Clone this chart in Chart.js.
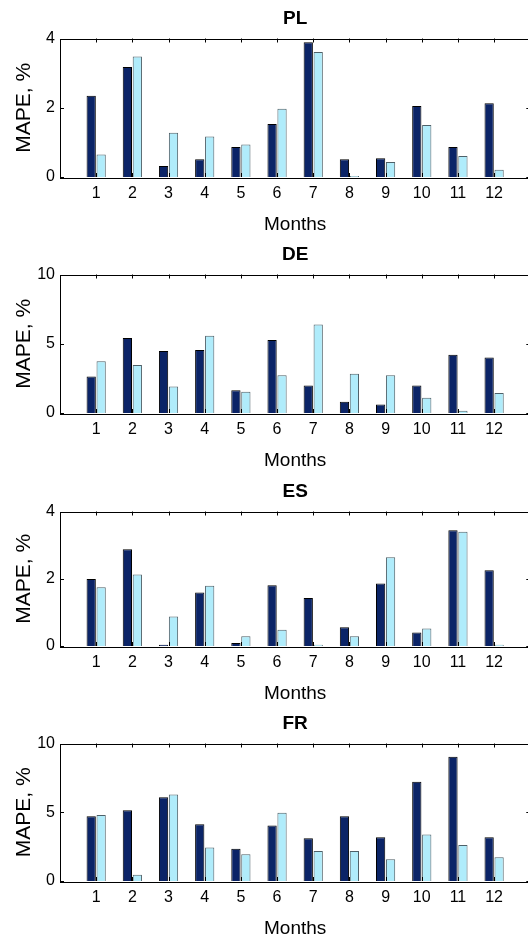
<!DOCTYPE html>
<html>
<head>
<meta charset="utf-8">
<script src="https://cdn.jsdelivr.net/npm/chart.js@4.4.1/dist/chart.umd.min.js"></script>
<style>
  html, body { margin: 0; padding: 0; background: #fff; overflow: hidden; }
  body { position: relative; width: 528px; height: 941px; }
  canvas { position: absolute; left: 0; }
</style>
</head>
<body>
<canvas id="pl"></canvas>
<canvas id="de"></canvas>
<canvas id="es"></canvas>
<canvas id="fr"></canvas>
<script>
// months on the x axis
const months = [1, 2, 3, 4, 5, 6, 7, 8, 9, 10, 11, 12];

// MAPE values, % (dark series / light series) per country
const plDark  = [2.35, 3.18, 0.32, 0.51, 0.87, 1.53, 3.89, 0.51, 0.54, 2.05, 0.87, 2.13];
const plLight = [0.65, 3.48, 1.28, 1.17, 0.94, 1.97, 3.61, 0.03, 0.43, 1.50, 0.61, 0.21];

const deDark  = [2.63, 5.41, 4.47, 4.54, 1.64, 5.27, 1.99, 0.82, 0.62, 1.99, 4.20, 4.00];
const deLight = [3.74, 3.47, 1.92, 5.57, 1.53, 2.72, 6.39, 2.83, 2.72, 1.10, 0.16, 1.44];

const esDark  = [1.99, 2.88, 0.04, 1.59, 0.09, 1.81, 1.43, 0.56, 1.86, 0.40, 3.44, 2.25];
const esLight = [1.75, 2.13, 0.88, 1.79, 0.29, 0.48, 0.04, 0.29, 2.64, 0.52, 3.40, 0.04];

const frDark  = [4.71, 5.15, 6.10, 4.13, 2.34, 4.04, 3.11, 4.71, 3.18, 7.22, 9.03, 3.18];
const frLight = [4.80, 0.46, 6.29, 2.44, 1.95, 4.97, 2.18, 2.18, 1.58, 3.39, 2.62, 1.72];

// y axis limits / tick steps
const yMax  = { pl: 4, de: 10, es: 4, fr: 10 };
const yStep = { pl: 2, de: 5, es: 2, fr: 5 };

Chart.defaults.font.family = "'Liberation Sans', Arial, Helvetica, sans-serif";
Chart.defaults.color = '#000';

// matlab style box with inward ticks, drawn over the bars
const boxTicks = {
  id: 'boxTicks',
  afterDatasetsDraw(chart) {
    const { ctx, chartArea: a, scales } = chart;
    const len = 4;
    ctx.save();
    ctx.strokeStyle = '#000';
    ctx.lineWidth = 1;
    ctx.beginPath();
    months.forEach(m => {
      const x = Math.round(scales.x.getPixelForValue(m)) + 0.5;
      ctx.moveTo(x, a.bottom); ctx.lineTo(x, a.bottom - len);
      ctx.moveTo(x, a.top); ctx.lineTo(x, a.top + len);
    });
    scales.y.ticks.forEach(t => {
      const y = Math.round(scales.y.getPixelForValue(t.value)) + 0.5;
      ctx.moveTo(a.left, y); ctx.lineTo(a.left + len, y);
      ctx.moveTo(a.right, y); ctx.lineTo(a.right - len, y);
    });
    ctx.stroke();
    ctx.strokeRect(Math.round(a.left) + 0.5, Math.round(a.top) + 0.5,
                   Math.round(a.right - a.left), Math.round(a.bottom - a.top));
    ctx.restore();
  }
};

function makeChart(id, title, dark, light, top, chartH) {
  const cv = document.getElementById(id);
  const w = 537, h = Math.round(chartH + 87.8);
  cv.width = w; cv.height = h;
  cv.style.width = w + 'px'; cv.style.height = h + 'px';
  cv.style.top = (top - 35.5) + 'px';

  return new Chart(cv.getContext('2d'), {
    type: 'bar',
    data: {
      datasets: [{
        data: months.map((m, i) => ({ x: m, y: dark[i] })),
        backgroundColor: '#0b2467',
        borderColor: '#000000',
        borderWidth: 1
      }, {
        data: months.map((m, i) => ({ x: m, y: light[i] })),
        backgroundColor: '#b0ecfb',
        borderColor: '#4e6068',
        borderWidth: 1
      }]
    },
    options: {
      responsive: false,
      animation: false,
      datasets: { bar: { categoryPercentage: 0.55, barPercentage: 0.93 } },
      layout: { padding: { top: 0, right: 1, bottom: 0, left: 0 } },
      plugins: {
        legend: { display: false },
        tooltip: { enabled: false },
        title: {
          display: true,
          fullSize: false,
          text: title,
          font: { size: 19, weight: 'bold' },
          padding: { top: 4, bottom: 8.7 }
        }
      },
      scales: {
        x: {
          type: 'linear',
          min: 0,
          max: 13,
          offset: false,
          grid: { display: false, drawTicks: false, offset: false },
          border: { display: false },
          ticks: {
            stepSize: 1,
            padding: 6.7,
            font: { size: 16 },
            maxRotation: 0,
            autoSkip: false,
            callback: v => (v >= 1 && v <= 12 ? String(v) : '')
          },
          title: {
            display: true,
            text: 'Months',
            font: { size: 19 },
            padding: { top: 3.6, bottom: 0 }
          }
        },
        y: {
          min: 0,
          max: yMax[id],
          grid: { display: false, drawTicks: false },
          border: { display: false },
          ticks: { stepSize: yStep[id], padding: 5, font: { size: 16 } },
          title: {
            display: true,
            text: 'MAPE, %',
            font: { size: 21 },
            padding: { top: 12, bottom: 0 }
          },
          afterFit(scale) { scale.width = 60; }
        }
      }
    },
    plugins: [boxTicks]
  });
}

makeChart('pl', 'PL', plDark, plLight, 38.5, 145.5);
makeChart('de', 'DE', deDark, deLight, 274, 145.5);
makeChart('es', 'ES', esDark, esLight, 511, 141);
makeChart('fr', 'FR', frDark, frLight, 743, 144);
</script>
</body>
</html>
